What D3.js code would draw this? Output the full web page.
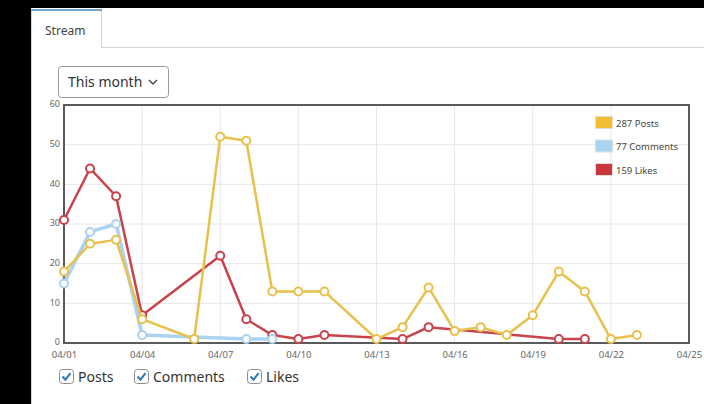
<!DOCTYPE html>
<html>
<head>
<meta charset="utf-8">
<script src="https://cdn.jsdelivr.net/npm/d3@7"></script>
<style>
  body { margin: 0; background: #000; }
  svg { display: block; font-family: "Noto Sans", "Open Sans", sans-serif; }
</style>
</head>
<body>
<svg></svg>
<script>
// data: day of month + value
let postDays     = [1, 2, 3, 4, 6, 7, 8, 9, 10, 11, 13, 14, 15, 16, 17, 18, 19, 20, 21, 22, 23]
let postValues   = [18, 25, 26, 6, 1, 52, 51, 13, 13, 13, 1, 4, 14, 3, 4, 2, 7, 18, 13, 1, 2]
let commentDays   = [1, 2, 3, 4, 8, 9]
let commentValues = [15, 28, 30, 2, 1, 1]
let likeDays     = [1, 2, 3, 4, 7, 8, 9, 10, 11, 14, 15, 20, 21]
let likeValues   = [31, 44, 37, 7, 22, 6, 2, 1, 2, 1, 4, 1, 1]

let legendLabels = ['287 Posts', '77 Comments', '159 Likes']
let checkLabels  = ['Posts', 'Comments', 'Likes']
let xTickDays    = [1, 4, 7, 10, 13, 16, 19, 22, 25]
let yTicks       = [0, 10, 20, 30, 40, 50, 60]

let colors = ['#e8c04c', '#a9d3f1', '#c8434b']
let swatch = ['#f0c030', '#a9d3f1', '#c9363c']

let width = 704
let height = 404
let plot = { left: 64, right: 689, top: 105, bottom: 343 }

let svg = d3.select('svg')
    .attr('width', width)
    .attr('height', height)

let toDate = (d) => new Date(2024, 3, d)

let xScale = d3.scaleTime()
    .domain([toDate(1), toDate(25)])
    .range([plot.left, plot.right])

let yScale = d3.scaleLinear()
    .domain([0, 60])
    .range([plot.bottom, plot.top])

let drawFrame = () => {
    // black margin + white panel
    svg.append('rect').attr('width', width).attr('height', height).attr('fill', '#000')
    svg.append('rect').attr('x', 31).attr('y', 8).attr('width', width - 31).attr('height', height - 8).attr('fill', '#fff')

    // tab strip
    svg.append('line').attr('x1', 101).attr('x2', width).attr('y1', 47.5).attr('y2', 47.5).attr('stroke', '#d4d4d4')
    svg.append('line').attr('x1', 31.5).attr('x2', 31.5).attr('y1', 10).attr('y2', height).attr('stroke', '#d4d4d4')
    svg.append('line').attr('x1', 101.5).attr('x2', 101.5).attr('y1', 10).attr('y2', 48).attr('stroke', '#d4d4d4')
    svg.append('rect').attr('x', 31).attr('y', 9).attr('width', 71).attr('height', 2).attr('fill', '#6ea8d2')
    svg.append('text').attr('x', 45).attr('y', 35).attr('font-size', 12).attr('fill', '#444').text('Stream')

    // dropdown
    svg.append('rect').attr('x', 58.5).attr('y', 66.5).attr('width', 110).attr('height', 31).attr('rx', 3)
        .attr('fill', '#fff').attr('stroke', '#9a9a9a')
    svg.append('text').attr('x', 68).attr('y', 87).attr('font-size', 14).attr('fill', '#333').text('This month')
    svg.append('path').attr('d', 'M149,80 l4,4 l4,-4').attr('fill', 'none').attr('stroke', '#444').attr('stroke-width', 1.4)
}

let drawGrid = () => {
    svg.append('g')
        .selectAll('line')
        .data(yTicks)
        .enter()
        .append('line')
        .attr('x1', plot.left).attr('x2', plot.right)
        .attr('y1', (d) => yScale(d)).attr('y2', (d) => yScale(d))
        .attr('stroke', '#e6e6e6')

    svg.append('g')
        .selectAll('line')
        .data(xTickDays)
        .enter()
        .append('line')
        .attr('x1', (d) => xScale(toDate(d))).attr('x2', (d) => xScale(toDate(d)))
        .attr('y1', plot.top).attr('y2', plot.bottom)
        .attr('stroke', '#e6e6e6')

    svg.append('rect')
        .attr('x', plot.left).attr('y', plot.top)
        .attr('width', plot.right - plot.left).attr('height', plot.bottom - plot.top)
        .attr('fill', 'none').attr('stroke', '#5a5a5a').attr('stroke-width', 2)
}

let drawAxis = () => {
    let yAxis = d3.axisLeft(yScale).tickValues(yTicks).tickSize(0).tickPadding(4)
    let gy = svg.append('g')
        .attr('transform', 'translate(' + plot.left + ',0)')
        .call(yAxis)
    gy.select('.domain').remove()
    gy.selectAll('text').attr('font-size', 9).attr('fill', '#666').attr('font-family', 'Noto Sans')
        .attr('dy', '0.2em')

    let xAxis = d3.axisBottom(xScale)
        .tickValues(xTickDays.map(toDate))
        .tickFormat(d3.timeFormat('%m/%d'))
        .tickSize(0).tickPadding(8)
    let gx = svg.append('g')
        .attr('transform', 'translate(0,' + plot.bottom + ')')
        .call(xAxis)
    gx.select('.domain').remove()
    gx.selectAll('text').attr('font-size', 9.5).attr('fill', '#666').attr('font-family', 'Noto Sans')
}

let drawSeries = () => {
    let series = [
        postDays.map((d, i) => [toDate(d), postValues[i]]),
        commentDays.map((d, i) => [toDate(d), commentValues[i]]),
        likeDays.map((d, i) => [toDate(d), likeValues[i]])
    ]
    let line = d3.line().x((d) => xScale(d[0])).y((d) => yScale(d[1]))

    // draw order: likes under, then comments, posts on top like the picture
    let order = [2, 1, 0]
    order.forEach((s) => {
        let g = svg.append('g')
        g.append('path')
            .datum(series[s])
            .attr('d', line)
            .attr('fill', 'none')
            .attr('stroke', colors[s])
            .attr('stroke-width', s == 1 ? 3.5 : 2.5)
            .attr('stroke-linejoin', 'round')
        g.selectAll('circle')
            .data(series[s])
            .enter()
            .append('circle')
            .attr('cx', (d) => xScale(d[0]))
            .attr('cy', (d) => yScale(d[1]))
            .attr('r', 4)
            .attr('fill', '#fff')
            .attr('stroke', colors[s])
            .attr('stroke-width', 2)
    })
}

let drawLegend = () => {
    let lg = svg.append('g')
    legendLabels.forEach((label, i) => {
        let y = 117 + i * 23.5
        lg.append('rect').attr('x', 595.5).attr('y', y - 0.5).attr('width', 17).attr('height', 12)
            .attr('fill', swatch[i]).attr('stroke', '#ddd')
        lg.append('text').attr('x', 616).attr('y', y + 9.5).attr('font-size', 9.5).attr('fill', '#444').text(label)
    })
}

let drawChecks = () => {
    let xs = [59, 134, 247]
    checkLabels.forEach((label, i) => {
        let g = svg.append('g').attr('transform', 'translate(' + xs[i] + ',369)')
        g.append('rect').attr('x', 0.5).attr('y', 0.5).attr('width', 14).attr('height', 14).attr('rx', 3)
            .attr('fill', '#fff').attr('stroke', '#8c8c8c')
        g.append('path').attr('d', 'M3.5,7.5 l3,3.2 l5,-6.5').attr('fill', 'none')
            .attr('stroke', '#2b78c2').attr('stroke-width', 2)
        g.append('text').attr('x', 19).attr('y', 12.5).attr('font-size', 14).attr('fill', '#333').text(label)
    })
}

drawFrame()
drawGrid()
drawAxis()
drawSeries()
drawLegend()
drawChecks()
</script>
</body>
</html>
